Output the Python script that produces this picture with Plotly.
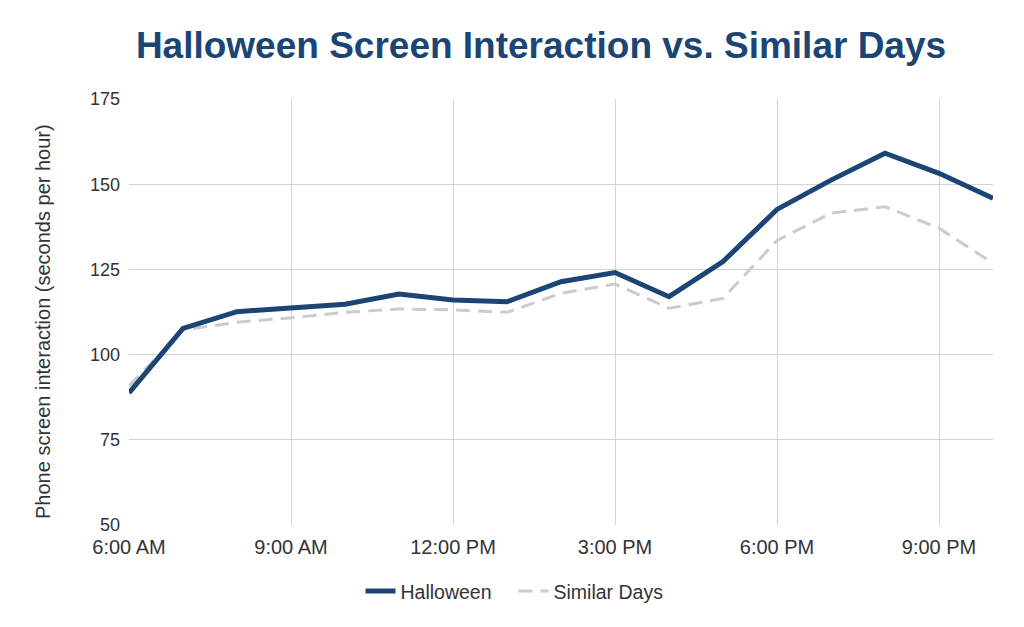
import plotly.graph_objects as go

hours = [6, 7, 8, 9, 10, 11, 12, 13, 14, 15, 16, 17, 18, 19, 20, 21, 22]
halloween = [88.8, 107.7, 112.6, 113.7, 114.8, 117.8, 116.0, 115.5, 121.4, 124.1,
             117.0, 127.3, 142.6, 151.2, 159.1, 153.2, 145.9]
similar_days = [90.8, 107.2, 109.5, 110.8, 112.4, 113.4, 113.1, 112.4, 118.0, 120.7,
                113.6, 116.5, 133.5, 141.5, 143.4, 137.1, 126.8]
tick_hours = [6, 9, 12, 15, 18, 21]
tick_labels = ["6:00 AM", "9:00 AM", "12:00 PM", "3:00 PM", "6:00 PM", "9:00 PM"]
y_ticks = [50, 75, 100, 125, 150, 175]

FONT = "Liberation Sans, Arial, Helvetica, sans-serif"

fig = go.Figure()
fig.add_trace(go.Scatter(x=hours, y=similar_days, mode="lines", name="Similar Days",
                         line=dict(color="#cccccc", width=3, dash="14px,8px")))
fig.add_trace(go.Scatter(x=hours, y=halloween, mode="lines", name="Halloween",
                         line=dict(color="#1b4574", width=5)))

fig.update_layout(
    width=1016, height=619,
    paper_bgcolor="white", plot_bgcolor="white",
    margin=dict(l=121, r=31, t=91, b=102),
    title=dict(text="<b>Halloween Screen Interaction vs. Similar Days</b>",
               x=0.5246, xanchor="center", y=0.940, yanchor="middle",
               font=dict(family=FONT, size=37, color="#1b4574")),
    font=dict(family=FONT, color="#333333"),
    showlegend=True,
    legend=dict(orientation="h", x=0.445, xanchor="center", y=-0.110, yanchor="top",
                traceorder="reversed", itemwidth=30,
                entrywidth=108, entrywidthmode="pixels",
                font=dict(size=19.5, color="#333333")),
    xaxis=dict(range=[6, 22], tickvals=tick_hours, ticktext=tick_labels,
               showgrid=True, gridcolor="#d3d3d3", gridwidth=1.3, zeroline=False,
               showline=False, tickfont=dict(size=20, color="#333333"), ticks="",
               ticklabelstandoff=8),
    yaxis=dict(range=[50, 175], tickvals=y_ticks,
               showgrid=True, gridcolor="#d3d3d3", gridwidth=1.3, zeroline=False,
               showline=False, tickfont=dict(size=18, color="#333333"), ticks="",
               ticklabelstandoff=8),
    annotations=[dict(text="Phone screen interaction (seconds per hour)",
                      xref="paper", yref="paper",
                      x=(35 - 121) / 864, y=(517 - 314) / 426,
                      xanchor="center", yanchor="middle", textangle=-90,
                      showarrow=False, font=dict(size=20, color="#333333"))],
)

fig.write_html("out.html")
